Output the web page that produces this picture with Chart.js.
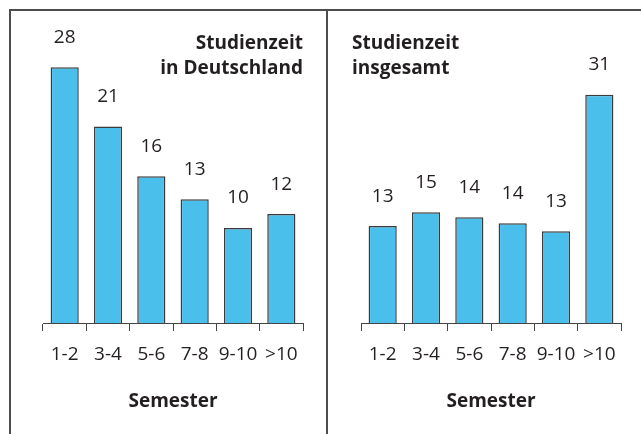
<!DOCTYPE html>
<html>
<head>
<meta charset="utf-8">
<script src="https://cdn.jsdelivr.net/npm/chart.js@4.4.1/dist/chart.umd.min.js"></script>
<style>
  body { margin: 0; background: #fff; width: 641px; height: 434px; overflow: hidden; position: relative; }
  .pane { position: absolute; top: 0; height: 434px; }
  #paneLeft { left: 0; width: 327px; }
  #paneRight { left: 327px; width: 314px; }
  .rule { position: absolute; background: #4d4d4f; }
  #ruleTop { left: 9px; top: 9px; width: 632px; height: 2px; }
  #ruleLeft { left: 9px; top: 9px; width: 2px; height: 425px; }
  #ruleMid { left: 326px; top: 9px; width: 2px; height: 425px; }
</style>
</head>
<body>
<div class="pane" id="paneLeft"><canvas id="chartLeft" width="327" height="434"></canvas></div>
<div class="pane" id="paneRight"><canvas id="chartRight" width="314" height="434"></canvas></div>
<div class="rule" id="ruleTop"></div>
<div class="rule" id="ruleLeft"></div>
<div class="rule" id="ruleMid"></div>
<script>
// Daten
const semesters = ['1-2', '3-4', '5-6', '7-8', '9-10', '>10'];
const germanyValues = [27.7, 21.3, 15.9, 13.4, 10.3, 11.8];
const germanyLabels = [28, 21, 16, 13, 10, 12];
const totalValues = [13.2, 15.1, 14.4, 13.6, 12.5, 31.1];
const totalLabels = [13, 15, 14, 14, 13, 31];
const germanyTitle = ['Studienzeit', 'in Deutschland'];
const totalTitle = ['Studienzeit', 'insgesamt'];
const axisTitle = 'Semester';

const FONT = '"Open Sans", "Noto Sans", sans-serif';
const INK = '#231f20';
const BAR_FILL = '#4bbfec';
const BAR_EDGE = '#3b3b3b';

// Werte ueber den Balken
const barLabels = {
  id: 'barLabels',
  afterDatasetsDraw(chart, args, opts) {
    const ctx = chart.ctx;
    const meta = chart.getDatasetMeta(0);
    ctx.save();
    ctx.font = '19px ' + FONT;
    ctx.fillStyle = INK;
    ctx.textAlign = 'center';
    ctx.textBaseline = 'middle';
    meta.data.forEach((bar, i) => {
      ctx.fillText(String(opts.texts[i]), bar.x, bar.y - 30);
    });
    ctx.restore();
  }
};

// Zweizeiliger Titel im Diagramm
const cornerTitle = {
  id: 'cornerTitle',
  afterDraw(chart, args, opts) {
    const ctx = chart.ctx;
    const area = chart.chartArea;
    ctx.save();
    ctx.font = 'bold 19px ' + FONT;
    ctx.fillStyle = INK;
    ctx.textBaseline = 'middle';
    ctx.textAlign = opts.align;
    const x = opts.align === 'right' ? area.right : area.left - 9;
    opts.lines.forEach((line, i) => ctx.fillText(line, x, 44 + i * 25));
    ctx.restore();
  }
};

function makeChart(id, values, texts, yMax, lines, align, padLeft, padRight) {
  return new Chart(document.getElementById(id), {
    type: 'bar',
    data: {
      labels: semesters,
      datasets: [{
        data: values,
        backgroundColor: BAR_FILL,
        borderColor: BAR_EDGE,
        borderWidth: 1.5,
        categoryPercentage: 1,
        barPercentage: 0.65
      }]
    },
    options: {
      responsive: false,
      animation: false,
      layout: { padding: { left: padLeft, right: padRight, top: 0, bottom: 0 } },
      plugins: {
        legend: { display: false },
        tooltip: { enabled: false },
        barLabels: { texts: texts },
        cornerTitle: { lines: lines, align: align }
      },
      scales: {
        y: { display: false, min: 0, max: yMax },
        x: {
          offset: true,
          grid: { display: true, offset: true, drawOnChartArea: false, drawTicks: true, tickLength: 8, color: '#444', lineWidth: 1 },
          border: { display: true, color: '#444', width: 1 },
          ticks: { color: INK, font: { family: FONT, size: 19 }, padding: 12, maxRotation: 0, autoSkip: false },
          title: { display: true, text: axisTitle, color: INK, font: { family: FONT, size: 19, weight: 'bold' }, padding: { top: 0, bottom: 21 } },
          afterFit: s => { s.height = 111; }
        }
      }
    },
    plugins: [barLabels, cornerTitle]
  });
}

makeChart('chartLeft', germanyValues, germanyLabels, 35, germanyTitle, 'right', 43, 24);
makeChart('chartRight', totalValues, totalLabels, 44, totalTitle, 'left', 34, 20);
</script>
</body>
</html>
